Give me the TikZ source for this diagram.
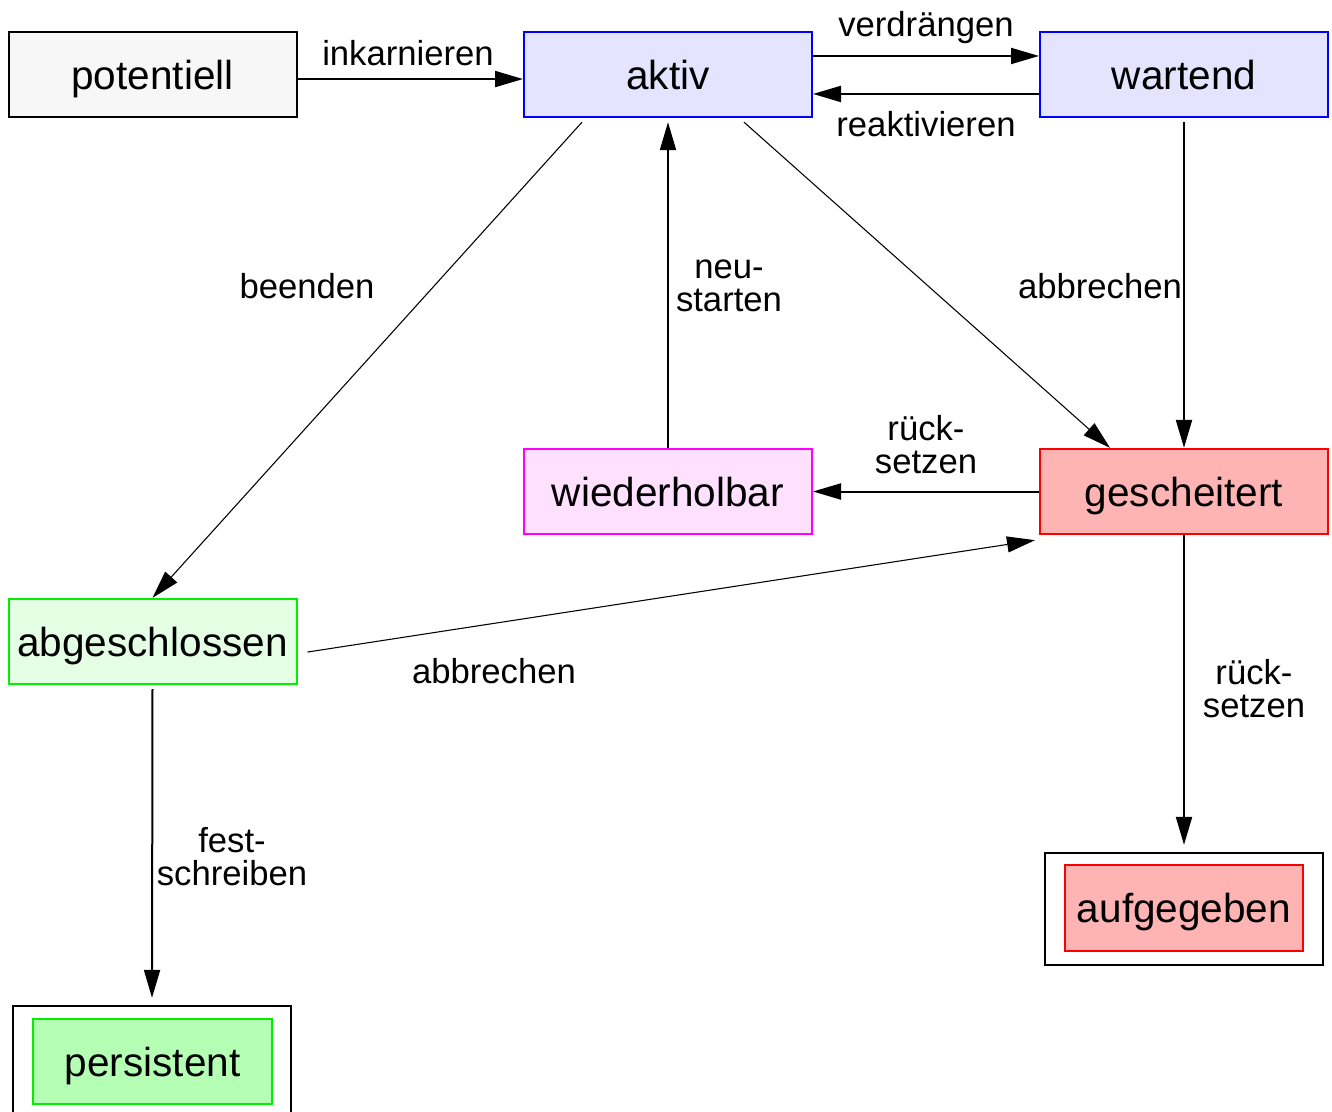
\documentclass[tikz,border=0pt]{standalone}
\usepackage{fontspec}
\setmainfont{Liberation Sans}
\usetikzlibrary{arrows.meta}

\definecolor{potfill}{HTML}{F7F7F7}
\definecolor{activefill}{HTML}{E4E4FF}
\definecolor{retryfill}{HTML}{FFE0FF}
\definecolor{failfill}{HTML}{FFB4B4}
\definecolor{donefill}{HTML}{E4FFE4}
\definecolor{keptfill}{HTML}{B4FFB4}
\definecolor{brightgreen}{HTML}{00F000}
\definecolor{pureblue}{HTML}{0000FF}
\definecolor{purered}{HTML}{FF0000}
\definecolor{puremagenta}{HTML}{FF00FF}

\begin{document}
\begin{tikzpicture}[x=0.75pt,y=-0.75pt,
  state/.style={draw, line width=1.5pt, minimum width=216pt, minimum height=64pt,
    inner sep=0pt, text height=21.8pt, text depth=0pt,
    font=\fontsize{30.4}{32}\selectfont},
  frame/.style={draw, line width=1.5pt, minimum width=209pt, minimum height=84pt, inner sep=0pt},
  conn/.style={line width=1.5pt, -{Triangle[length=21pt,width=12pt]}},
  slant/.style={line width=0.8pt, -{Triangle[length=21pt,width=12pt]}},
  lbl/.style={anchor=base, inner sep=0pt, align=center,
    font=\fontsize{26}{24.75}\selectfont}
]
\useasboundingbox (0,0) rectangle (1332,1111);

% states
\node[state, fill=potfill, draw=black] (potentiell) at (152.5,74.5) {potentiell};
\node[state, fill=activefill, draw=pureblue] (aktiv) at (668,74.5) {aktiv};
\node[state, fill=activefill, draw=pureblue] (wartend) at (1184,74.5) {wartend};
\node[state, fill=retryfill, draw=puremagenta] (wiederholbar) at (668,491.5) {wiederholbar};
\node[state, fill=failfill, draw=purered] (gescheitert) at (1184,491.5) {gescheitert};
\node[state, fill=donefill, draw=brightgreen] (abgeschlossen) at (152.5,641.5) {abgeschlossen};

% final states with an outer frame
\node[frame] (persistentFrame) at (152,1061.5) {};
\node[state, fill=keptfill, draw=brightgreen, minimum width=179pt] (persistent) at (152.5,1061.5) {persistent};
\node[frame] (aufgegebenFrame) at (1184,908.5) {};
\node[state, fill=failfill, draw=purered, minimum width=178.5pt] (aufgegeben) at (1184,908) {aufgegeben};

% transitions
\draw[conn] ([yshift=-3.4pt]potentiell.east) -- ([yshift=-3.4pt]aktiv.west);
\draw[conn] ([yshift=13.9pt]aktiv.east) -- ([yshift=13.9pt]wartend.west);
\draw[conn] ([yshift=-14.6pt]wartend.west) -- ([yshift=-14.6pt]aktiv.east);
\draw[slant] ([xshift=-64.5pt,yshift=-3pt]aktiv.south) -- (abgeschlossen.north);
\draw[conn] (wiederholbar.north) -- ([yshift=-3pt]aktiv.south);
\draw[slant] ([xshift=57pt,yshift=-3pt]aktiv.south) -- ([xshift=-55.5pt]gescheitert.north);
\draw[conn] ([yshift=-3pt]wartend.south) -- (gescheitert.north);
\draw[conn] (gescheitert.west) -- (wiederholbar.east);
\draw[slant] ([xshift=7.5pt,yshift=-7.9pt]abgeschlossen.east) -- ([xshift=-3pt,yshift=-3.75pt]gescheitert.south west);
\draw[conn] ([yshift=-3pt]abgeschlossen.south) -- ([yshift=5pt]persistentFrame.north);
\draw[conn] (gescheitert.south) -- ([yshift=5pt]aufgegebenFrame.north);

% transition labels (base = baseline of the last line)
\node[lbl] (lInk) at (408,65) {inkarnieren};
\node[lbl] (lVer) at (926,36) {verdrängen};
\node[lbl] (lRea) at (926,136) {reaktivieren};
\node[lbl] (lBee) at (307,298) {beenden};
\node[lbl] (lAbb) at (1100,298) {abbrechen};
\node[lbl] (lNeu) at (729,311) {neu-\\starten};
\node[lbl] (lRue) at (926,473) {rück-\\setzen};
\node[lbl] (lAbb2) at (494,683) {abbrechen};
\node[lbl] (lFes) at (232,885) {fest-\\schreiben};
\node[lbl] (lRue2) at (1254,717) {rück-\\setzen};
\end{tikzpicture}
\end{document}
